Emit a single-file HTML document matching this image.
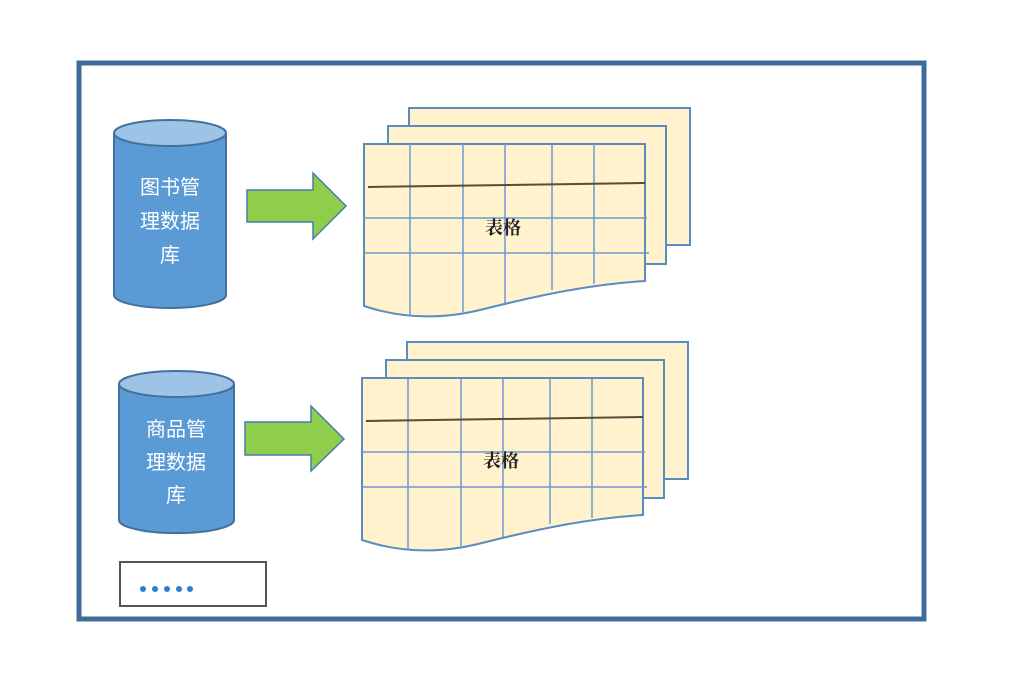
<!DOCTYPE html>
<html><head><meta charset="utf-8"><style>
html,body{margin:0;padding:0;background:#fff;}
svg{display:block;}
.c{font-family:"Liberation Sans","Noto Sans CJK SC",sans-serif;font-size:20px;fill:#fff;text-anchor:middle;}
.t{font-family:"Liberation Serif","Noto Serif CJK SC",serif;font-size:18px;font-weight:bold;fill:#222;text-anchor:middle;}
</style></head><body>
<svg width="1010" height="681" viewBox="0 0 1010 681" xmlns="http://www.w3.org/2000/svg">
<rect x="79" y="63" width="845" height="556" fill="#fff" stroke="#3f6c9b" stroke-width="5"/>

<defs>
<g id="tbl">
  <rect x="45" y="-36" width="281" height="137" fill="#fff2cc" stroke="#5b8cc0" stroke-width="2"/>
  <rect x="24" y="-18" width="278" height="138" fill="#fff2cc" stroke="#5b8cc0" stroke-width="2"/>
  <path d="M0 0 H281 V137 C230 140 180 150 120 165 C70 178 30 172 0 162 Z" fill="#fff2cc" stroke="#5b8cc0" stroke-width="2"/>
  <g stroke="#6a9bd0" stroke-width="1.5">
    <line x1="46" y1="0" x2="46" y2="171"/>
    <line x1="99" y1="0" x2="99" y2="168"/>
    <line x1="141" y1="0" x2="141" y2="159"/>
    <line x1="188" y1="0" x2="188" y2="146"/>
    <line x1="230" y1="0" x2="230" y2="140"/>
    <line x1="0" y1="74" x2="283" y2="74"/>
    <line x1="0" y1="109" x2="285" y2="109"/>
  </g>
  <line x1="4" y1="43" x2="281" y2="39" stroke="#5a4a36" stroke-width="2"/>
</g>
</defs>

<!-- top group -->
<path d="M114 133 V295 A56 13 0 0 0 226 295 V133" fill="#5b9bd5" stroke="#41719c" stroke-width="2"/>
<ellipse cx="170" cy="133" rx="56" ry="13" fill="#9dc3e6" stroke="#41719c" stroke-width="2"/>
<text class="c" x="170" y="194">图书管</text>
<text class="c" x="170" y="228">理数据</text>
<text class="c" x="170" y="262">库</text>
<path d="M247 190 H313 V173 L346 206 L313 239 V222 H247 Z" fill="#8fce4a" stroke="#4a7bb0" stroke-width="1.5"/>
<use href="#tbl" x="364" y="144"/>
<text class="t" x="503" y="234">表格</text>

<!-- bottom group -->
<path d="M119 384 V520 A57 13 0 0 0 234 520 V384" fill="#5b9bd5" stroke="#41719c" stroke-width="2"/>
<ellipse cx="176.5" cy="384" rx="57.5" ry="13" fill="#9dc3e6" stroke="#41719c" stroke-width="2"/>
<text class="c" x="176" y="436">商品管</text>
<text class="c" x="176" y="469">理数据</text>
<text class="c" x="176" y="502">库</text>
<path d="M245 422 H311 V406 L344 439 L311 471 V455 H245 Z" fill="#8fce4a" stroke="#4a7bb0" stroke-width="1.5"/>
<use href="#tbl" x="362" y="378"/>
<text class="t" x="501" y="467">表格</text>

<rect x="120" y="562" width="146" height="44" fill="#fff" stroke="#555" stroke-width="2"/>
<g fill="#2e7dd1">
<circle cx="143" cy="589" r="3"/><circle cx="155" cy="589" r="3"/><circle cx="167" cy="589" r="3"/><circle cx="179" cy="589" r="3"/><circle cx="190" cy="589" r="3"/>
</g>
</svg>
</body></html>
